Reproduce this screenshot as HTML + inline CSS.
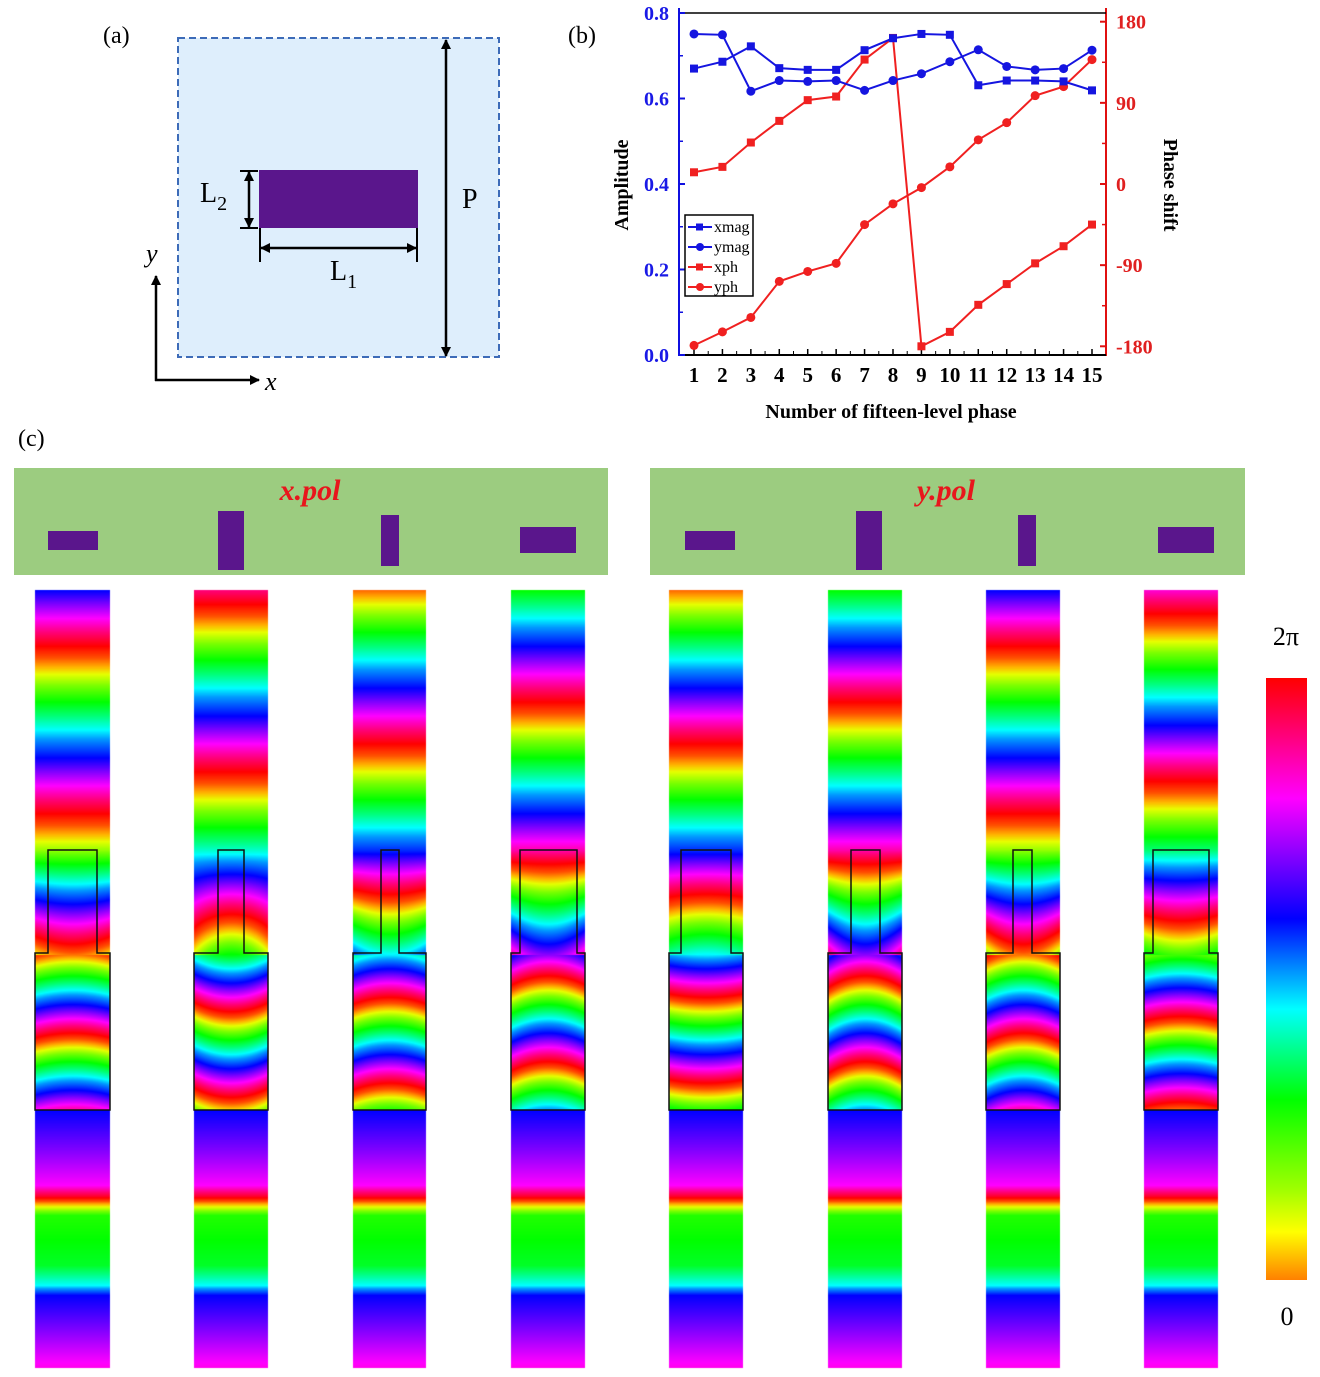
<!DOCTYPE html>
<html><head><meta charset="utf-8">
<style>
html,body{margin:0;padding:0;background:#fff;}
#root{position:relative;width:1320px;height:1377px;overflow:hidden;font-family:"Liberation Serif",serif;}
#fields{position:absolute;left:0;top:0;}
svg{position:absolute;left:0;top:0;}
</style></head>
<body>
<div id="root">
<canvas id="fields" width="1320" height="1377"></canvas>
<svg id="svg" width="1320" height="1377" viewBox="0 0 1320 1377">
<defs>
<marker id="ah" markerWidth="10" markerHeight="10" refX="9" refY="5" orient="auto-start-reverse" markerUnits="userSpaceOnUse"><path d="M0,0 L10,5 L0,10 Z" fill="#000"/></marker>
<linearGradient id="cbar" x1="0" y1="0" x2="0" y2="1">
<stop offset="0" stop-color="#ff0000"/><stop offset="0.1" stop-color="#ff0080"/><stop offset="0.2" stop-color="#ff00ff"/><stop offset="0.3" stop-color="#8000ff"/><stop offset="0.4" stop-color="#0000ff"/><stop offset="0.55" stop-color="#00ffff"/><stop offset="0.7" stop-color="#00ff00"/><stop offset="0.85" stop-color="#a0ff00"/><stop offset="0.92" stop-color="#ffff00"/><stop offset="1" stop-color="#ff8000"/>
</linearGradient>
</defs>
<g>
<text x="103" y="43" font-size="24">(a)</text>
<rect x="178" y="38" width="321" height="319" fill="#deeefc" stroke="#3d6bb8" stroke-width="2" stroke-dasharray="7,4"/>
<rect x="259" y="170" width="159" height="58" fill="#5a168c"/>
<line x1="240" y1="171" x2="258" y2="171" stroke="#000" stroke-width="2"/>
<line x1="240" y1="228" x2="258" y2="228" stroke="#000" stroke-width="2"/>
<line x1="249" y1="172" x2="249" y2="227" stroke="#000" stroke-width="2.5" marker-start="url(#ah)" marker-end="url(#ah)"/>
<text x="200" y="202" font-size="28">L<tspan font-size="20" dy="8">2</tspan></text>
<line x1="260" y1="228" x2="260" y2="262" stroke="#000" stroke-width="2"/>
<line x1="417" y1="228" x2="417" y2="262" stroke="#000" stroke-width="2"/>
<line x1="261" y1="248" x2="416" y2="248" stroke="#000" stroke-width="2.5" marker-start="url(#ah)" marker-end="url(#ah)"/>
<text x="330" y="280" font-size="28">L<tspan font-size="20" dy="8">1</tspan></text>
<line x1="446" y1="40" x2="446" y2="356" stroke="#000" stroke-width="2.5" marker-start="url(#ah)" marker-end="url(#ah)"/>
<text x="462" y="208" font-size="28">P</text>
<line x1="156" y1="381" x2="156" y2="276" stroke="#000" stroke-width="2.5" marker-end="url(#ah)"/>
<line x1="155" y1="380" x2="259" y2="380" stroke="#000" stroke-width="2.5" marker-end="url(#ah)"/>
<text x="146" y="262" font-size="26" font-style="italic">y</text>
<text x="265" y="390" font-size="26" font-style="italic">x</text>
</g>
<text x="568" y="43" font-size="24">(b)</text>
<g id="chart"></g>
<text x="18" y="446" font-size="24">(c)</text>
<g>
<rect x="14" y="468" width="594" height="107" fill="#9ccc80"/>
<text x="310" y="500" font-size="30" font-style="italic" font-weight="bold" fill="#e8161c" text-anchor="middle">x.pol</text>
<rect x="48" y="531" width="50" height="19" fill="#5a168c"/>
<rect x="218" y="511" width="26" height="59" fill="#5a168c"/>
<rect x="381" y="515" width="18" height="51" fill="#5a168c"/>
<rect x="520" y="527" width="56" height="26" fill="#5a168c"/>
</g>
<g>
<rect x="650" y="468" width="595" height="107" fill="#9ccc80"/>
<text x="946" y="500" font-size="30" font-style="italic" font-weight="bold" fill="#e8161c" text-anchor="middle">y.pol</text>
<rect x="685" y="531" width="50" height="19" fill="#5a168c"/>
<rect x="856" y="511" width="26" height="59" fill="#5a168c"/>
<rect x="1018" y="515" width="18" height="51" fill="#5a168c"/>
<rect x="1158" y="527" width="56" height="26" fill="#5a168c"/>
</g>
<g id="outlines"></g>
<rect x="1266" y="678" width="41" height="602" fill="url(#cbar)"/>
<text x="1286" y="645" font-size="26" text-anchor="middle">2π</text>
<text x="1287" y="1325" font-size="26" text-anchor="middle">0</text>
</svg>
</div>
<script>
// ---- chart data ----
const levels = [1,2,3,4,5,6,7,8,9,10,11,12,13,14,15];
const xmag = [0.670,0.686,0.722,0.671,0.667,0.667,0.713,0.741,0.751,0.749,0.631,0.642,0.642,0.640,0.619];
const ymag = [0.751,0.749,0.617,0.642,0.640,0.642,0.619,0.642,0.658,0.686,0.714,0.675,0.667,0.670,0.713];
const xph = [13,19,46,70,93,97,138,162,-180,-164,-134,-111,-88,-69,-45];
const yph = [-179,-164,-148,-108,-97,-88,-45,-22,-4,19,49,68,98,108,138];
const ampTicks = [0,0.2,0.4,0.6,0.8];
const ampTickLabels = ["0.0","0.2","0.4","0.6","0.8"];
const phTicks = [-180,-90,0,90,180];
const phTickLabels = ["-180","-90","0","90","180"];

const NS='http://www.w3.org/2000/svg';
const L=679,R=1106,B=355;
const xs = v => 694 + (v-1)*(1092-694)/14;
const ya = v => 355 - v/0.8*342;
const yp = v => 184 - v*(184-21.7)/180;
const g=document.getElementById('chart');
function mk(tag,attrs,parent){const e=document.createElementNS(NS,tag);for(const k in attrs)e.setAttribute(k,attrs[k]);(parent||g).appendChild(e);return e;}

const axL=mk('line',{x1:L,y1:8,x2:L,y2:B+1,stroke:'#1010e0','stroke-width':2});


const axR=mk('line',{x1:R,y1:8,x2:R,y2:B+1,stroke:'#e01010','stroke-width':2});


const axT=mk('line',{x1:L,y1:13,x2:R,y2:13,stroke:'#000','stroke-width':1.5});


const axB=mk('line',{x1:L,y1:B,x2:R,y2:B,stroke:'#000','stroke-width':2});



ampTicks.forEach((t,i)=>{
  mk('line',{x1:L,y1:ya(t),x2:L+6,y2:ya(t),stroke:'#1010e0','stroke-width':2});
  const tx=mk('text',{x:L-10,y:ya(t)+7,'font-size':20,'font-weight':'bold',fill:'#1a1ae6','text-anchor':'end'});
  tx.textContent=ampTickLabels[i];
  
  
  if(i<ampTicks.length-1){const m=(t+ampTicks[i+1])/2;mk('line',{x1:L,y1:ya(m),x2:L+4,y2:ya(m),stroke:'#1010e0','stroke-width':1.5});}
});
phTicks.forEach((t,i)=>{
  mk('line',{x1:R,y1:yp(t),x2:R-6,y2:yp(t),stroke:'#e01010','stroke-width':2});
  const tx=mk('text',{x:R+10,y:yp(t)+7,'font-size':20,'font-weight':'bold',fill:'#e02020'});
  tx.textContent=phTickLabels[i];
  
  
  if(i<phTicks.length-1){const m=(t+phTicks[i+1])/2;mk('line',{x1:R,y1:yp(m),x2:R-4,y2:yp(m),stroke:'#e01010','stroke-width':1.5});}
});
levels.forEach((v,i)=>{
  mk('line',{x1:xs(v),y1:B,x2:xs(v),y2:B-6,stroke:'#000','stroke-width':1.5});
  const tx=mk('text',{x:xs(v),y:382,'font-size':21,'font-weight':'bold','text-anchor':'middle'});
  tx.textContent=v;
  
  
  if(i<levels.length-1) mk('line',{x1:(xs(v)+xs(v+1))/2,y1:B,x2:(xs(v)+xs(v+1))/2,y2:B-4,stroke:'#000','stroke-width':1});
});
function series(arr,yf,color,shape,name){
  const pts=arr.map((v,i)=>xs(levels[i])+','+yf(v)).join(' ');
  const pl=mk('polyline',{points:pts,fill:'none',stroke:color,'stroke-width':2});
  
  
  arr.forEach((v,i)=>{
    let m;
    if(shape==='s') m=mk('rect',{x:xs(levels[i])-4,y:yf(v)-4,width:8,height:8,fill:color});
    else m=mk('circle',{cx:xs(levels[i]),cy:yf(v),r:4.5,fill:color});
    
    
  });
}
series(xph,yp,'#f02020','s','xph');
series(yph,yp,'#f02020','c','yph');
series(xmag,ya,'#1515e0','s','xmag');
series(ymag,ya,'#1515e0','c','ymag');

const lg=mk('g',{});


mk('rect',{x:685,y:215,width:68,height:81,fill:'#fff',stroke:'#000','stroke-width':1.5},lg);
const legItems=[['xmag','#1515e0','s'],['ymag','#1515e0','c'],['xph','#f02020','s'],['yph','#f02020','c']];
legItems.forEach((it,i)=>{
  const y=227+i*20;
  mk('line',{x1:688,y1:y,x2:712,y2:y,stroke:it[1],'stroke-width':2},lg);
  if(it[2]==='s') mk('rect',{x:696,y:y-3.5,width:7,height:7,fill:it[1]},lg); else mk('circle',{cx:700,cy:y,r:4,fill:it[1]},lg);
  const t=mk('text',{x:714,y:y+5,'font-size':16},lg);t.textContent=it[0];
  
  
});
const yt=mk('text',{x:0,y:0,'font-size':20,'font-weight':'bold','text-anchor':'middle',transform:'translate(628,185) rotate(-90)'});
yt.textContent='Amplitude';


const yt2=mk('text',{x:0,y:0,'font-size':20,'font-weight':'bold','text-anchor':'middle',transform:'translate(1164,185) rotate(90)'});
yt2.textContent='Phase shift';


const xt=mk('text',{x:891,y:418,'font-size':20,'font-weight':'bold','text-anchor':'middle'});
xt.textContent='Number of fifteen-level phase';



// ---- field strips ----
const stripX=[35,194,353,511,669,828,986,1144];
const stripW=[75,74,73,74,74,74,74,74];
const pillarL=[48,218,381,520,681,851,1013,1153];
const pillarR=[97,244,399,577,731,880,1032,1209];
const topHue=[240,330,30,120,30,120,240,310];
const midCurv=[0.02,-0.04,0.03,0.04,-0.015,0.05,0.04,0.02];
const cv=document.getElementById('fields');const ctx=cv.getContext('2d');
const cmH=[0,25,45,60,85,120,150,180,200,240,270,300,330,360];
const cmC=[[255,0,0],[255,80,0],[255,180,0],[230,255,0],[120,255,0],[0,255,0],[0,255,120],[0,255,255],[0,150,255],[0,0,255],[130,0,255],[255,0,255],[255,0,120],[255,0,0]];
function col(h){h=((h%360)+360)%360;for(let i=0;i<cmH.length-1;i++){if(h<=cmH[i+1]){const t=(h-cmH[i])/(cmH[i+1]-cmH[i]);const a=cmC[i],b=cmC[i+1];return [a[0]+t*(b[0]-a[0]),a[1]+t*(b[1]-a[1]),a[2]+t*(b[2]-a[2])];}}return cmC[0];}
const lowY=[1110,1150,1185,1196,1203,1215,1265,1285,1295,1330,1368];
const lowH=[240,270,300,350,400,470,490,540,600,630,665];
function lowHue(y){for(let i=0;i<lowY.length-1;i++){if(y<=lowY[i+1]){const t=(y-lowY[i])/(lowY[i+1]-lowY[i]);return lowH[i]+t*(lowH[i+1]-lowH[i]);}}return lowH[lowH.length-1];}
const Y0=590,Y1=1368,RATE=2.15;
const og=document.getElementById('outlines');
stripX.forEach((sx,k)=>{
  const w=stripW[k],h=Y1-Y0;const img=ctx.createImageData(w,h);const cx=w/2;
  for(let yy=0;yy<h;yy++){const y=Y0+yy;
    for(let xx=0;xx<w;xx++){const dx=xx-cx;let hue;
      const base=topHue[k]+260*RATE;
      if(y<850) hue=topHue[k]+(y-590)*RATE;
      else if(y<955) hue=base+(y-850)*3.0+midCurv[k]*dx*dx*(y-850)/105;
      else if(y<1110) hue=base+105*3.0+(y-955)*4.2-midCurv[k]*dx*dx*0.7;
      else hue=lowHue(y);
      const c=col(hue);const p=(yy*w+xx)*4;img.data[p]=c[0];img.data[p+1]=c[1];img.data[p+2]=c[2];img.data[p+3]=255;}
  }
  ctx.putImageData(img,sx,Y0);
  const pl=pillarL[k],pr=pillarR[k];
  const p=mk('path',{d:`M${sx},953 L${pl},953 L${pl},850 L${pr},850 L${pr},953 L${sx+w},953 L${sx+w},1110 L${sx},1110 Z`,fill:'none',stroke:'#111','stroke-width':1.5},og);
  
  
});
</script>
</body></html>
